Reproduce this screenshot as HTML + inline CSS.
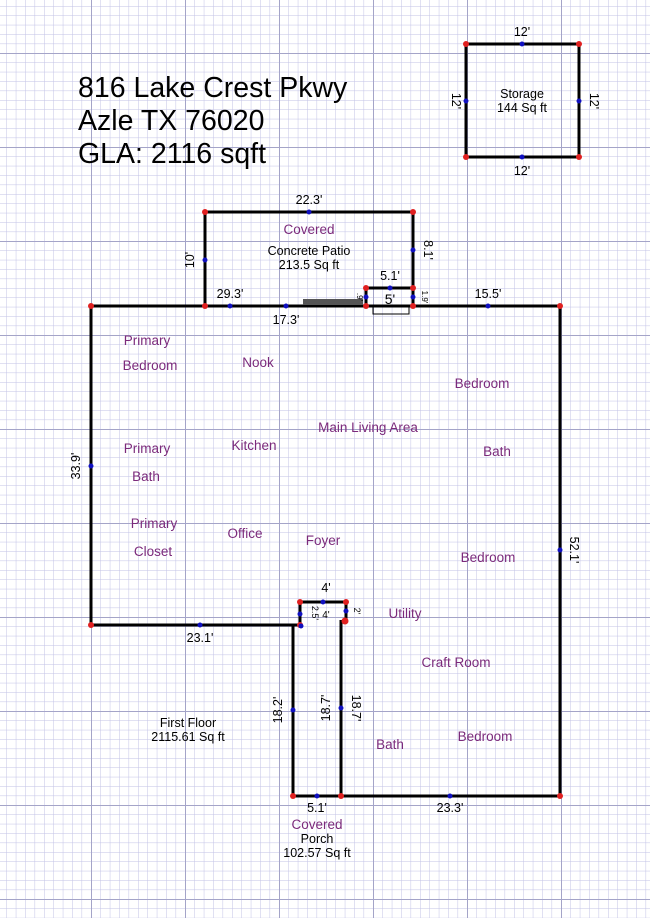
<!DOCTYPE html>
<html><head><meta charset="utf-8"><style>
html,body{margin:0;padding:0;background:#fff;}
svg{display:block;font-family:"Liberation Sans",Arial,sans-serif;}
.p{fill:#7b2a7b;font-size:13.5px;}
.d{fill:#000;font-size:12.5px;}
</style></head><body>
<svg width="650" height="918" viewBox="0 0 650 918" xmlns="http://www.w3.org/2000/svg">
<defs>
<pattern id="mi" x="-3" y="53" width="9.4" height="9.4" patternUnits="userSpaceOnUse">
<path d="M0 0H9.4M0 0V9.4" stroke="#c2c2e6" stroke-width="1" fill="none"/>
</pattern>
<pattern id="ma" x="-3" y="53" width="94" height="94" patternUnits="userSpaceOnUse">
<path d="M0 0H94M0 0V94" stroke="#a4a4c8" stroke-width="2" fill="none"/>
</pattern>
</defs>
<rect width="650" height="918" fill="#fff"/>
<rect width="650" height="918" fill="url(#mi)"/>
<rect width="650" height="918" fill="url(#ma)"/>

<text x="78" y="97" font-size="28.5">816 Lake Crest Pkwy</text>
<text x="78" y="130" font-size="28.5">Azle TX 76020</text>
<text x="78" y="163" font-size="28.5">GLA: 2116 sqft</text>

<g stroke="#000" stroke-width="3" fill="none">
<rect x="466" y="44" width="113" height="113"/>
<polyline points="205,306 205,212 413,212 413,288"/>
<polyline points="366,306 366,288 413,288 413,306"/>
<polyline points="300,625 91,625 91,306 560,306 560,796 341,796"/>
<polyline points="293,625 293,796 341,796 341,620"/>
<polyline points="300,625 300,602 346,602 346,620"/>
</g>
<rect x="303" y="299" width="60" height="6" fill="#555"/>
<rect x="373" y="306" width="36" height="8" fill="none" stroke="#000" stroke-width="1"/>

<g fill="#e02020">
<circle cx="466" cy="44" r="3"/><circle cx="579" cy="44" r="3"/><circle cx="466" cy="157" r="3"/><circle cx="579" cy="157" r="3"/>
<circle cx="205" cy="212" r="3"/><circle cx="413" cy="212" r="3"/><circle cx="205" cy="306" r="3"/>
<circle cx="366" cy="288" r="3"/><circle cx="413" cy="288" r="3"/><circle cx="366" cy="306" r="3"/><circle cx="413" cy="306" r="3"/>
<circle cx="91" cy="306" r="3"/><circle cx="560" cy="306" r="3"/><circle cx="560" cy="796" r="3"/><circle cx="91" cy="625" r="3"/>
<circle cx="293" cy="796" r="3"/><circle cx="341" cy="796" r="3"/><circle cx="300" cy="625" r="3"/>
<circle cx="300" cy="602" r="3"/><circle cx="346" cy="602" r="3"/><circle cx="345" cy="621" r="3.5"/>
</g>
<g fill="#1010c0">
<circle cx="522" cy="44" r="2.5"/><circle cx="522" cy="157" r="2.5"/><circle cx="466" cy="101" r="2.5"/><circle cx="579" cy="101" r="2.5"/>
<circle cx="309" cy="212" r="2.5"/><circle cx="205" cy="260" r="2.5"/><circle cx="413" cy="250" r="2.5"/><circle cx="390" cy="288" r="2.5"/>
<circle cx="366" cy="297" r="2.5"/><circle cx="413" cy="297" r="2.5"/>
<circle cx="230" cy="306" r="2.5"/><circle cx="286" cy="306" r="2.5"/><circle cx="488" cy="306" r="2.5"/>
<circle cx="91" cy="466" r="2.5"/><circle cx="200" cy="625" r="2.5"/><circle cx="560" cy="550" r="2.5"/>
<circle cx="450" cy="796" r="2.5"/><circle cx="317" cy="796" r="2.5"/><circle cx="293" cy="710" r="2.5"/><circle cx="341" cy="708" r="2.5"/>
<circle cx="323" cy="602" r="2.5"/><circle cx="300" cy="614" r="2.5"/><circle cx="346" cy="611" r="2.5"/><circle cx="301" cy="626" r="2.5"/>
</g>

<g class="d" text-anchor="middle">
<text x="522" y="36">12'</text><text x="522" y="175">12'</text>
<text transform="translate(452,101) rotate(90)">12'</text>
<text transform="translate(590,101) rotate(90)">12'</text>
<text x="522" y="98">Storage</text><text x="522" y="112">144 Sq ft</text>
<text x="309" y="204">22.3'</text>
<text transform="translate(194,260) rotate(-90)">10'</text>
<text transform="translate(424,250) rotate(90)">8.1'</text>
<text x="309" y="255">Concrete Patio</text><text x="309" y="269">213.5 Sq ft</text>
<text x="390" y="280">5.1'</text>
<text x="390" y="304" font-size="14">5'</text>
<text x="230" y="298">29.3'</text>
<text x="286" y="324">17.3'</text>
<text x="488" y="298">15.5'</text>
<text transform="translate(80,466) rotate(-90)">33.9'</text>
<text transform="translate(570,550) rotate(90)">52.1'</text>
<text x="200" y="642">23.1'</text>
<text x="326" y="592">4'</text>
<text x="326" y="618" font-size="10">4'</text>
<text transform="translate(282,710) rotate(-90)">18.2'</text>
<text transform="translate(330,708) rotate(-90)">18.7'</text>
<text transform="translate(352,708) rotate(90)">18.7'</text>
<text x="317" y="812">5.1'</text>
<text x="450" y="812">23.3'</text>
<text x="317" y="843">Porch</text><text x="317" y="857">102.57 Sq ft</text>
<text x="188" y="727">First Floor</text><text x="188" y="741">2115.61 Sq ft</text>
<text transform="translate(357,297) rotate(90)" font-size="8">.9'</text>
<text transform="translate(422,297) rotate(90)" font-size="8">1.9'</text>
<text transform="translate(312,613) rotate(90)" font-size="9">2.5'</text>
<text transform="translate(354,611) rotate(90)" font-size="9">2'</text>
</g>
<g class="p" text-anchor="middle">
<text x="309" y="234">Covered</text>
<text x="147" y="345">Primary</text><text x="150" y="370">Bedroom</text>
<text x="258" y="367">Nook</text>
<text x="482" y="388">Bedroom</text>
<text x="368" y="432">Main Living Area</text>
<text x="147" y="453">Primary</text><text x="146" y="481">Bath</text>
<text x="254" y="450">Kitchen</text>
<text x="497" y="456">Bath</text>
<text x="154" y="528">Primary</text><text x="153" y="556">Closet</text>
<text x="245" y="538">Office</text>
<text x="323" y="545">Foyer</text>
<text x="488" y="562">Bedroom</text>
<text x="405" y="618">Utility</text>
<text x="456" y="667">Craft Room</text>
<text x="485" y="741">Bedroom</text>
<text x="390" y="749">Bath</text>
<text x="317" y="829">Covered</text>
</g>
</svg>
</body></html>
